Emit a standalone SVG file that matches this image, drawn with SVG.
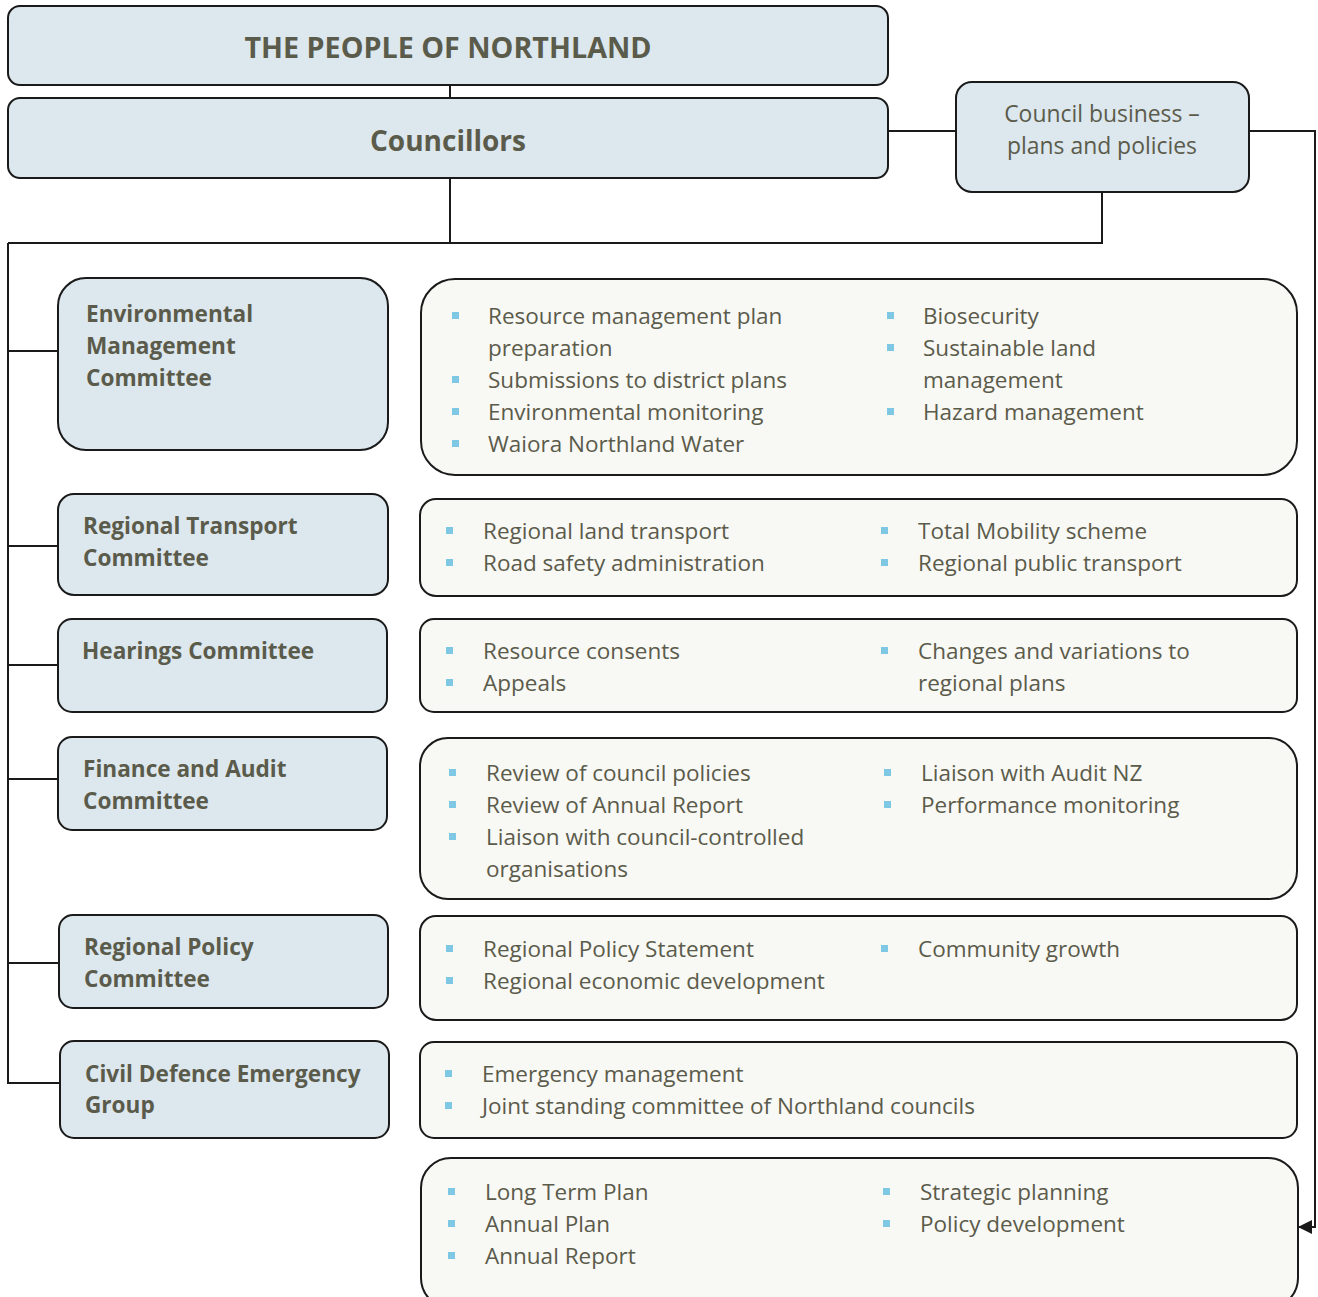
<svg xmlns="http://www.w3.org/2000/svg" width="1318" height="1297" viewBox="0 0 1318 1297">
<defs>
<style>
.nb{fill:#dce7ee;stroke:#1a1a1a;stroke-width:2}
.cb{fill:#f8f8f4;stroke:#1a1a1a;stroke-width:2}
.t{font-family:"Open Sans","Noto Sans",sans-serif;fill:#5b5b4b}
.h{font-weight:bold;font-size:22.6px}
.b{font-size:22.5px}
.bl{fill:#7ec8e3}
.c{fill:none;stroke:#1a1a1a;stroke-width:2}
</style>
<marker id="ah" markerWidth="16" markerHeight="16" refX="13" refY="7" orient="auto" markerUnits="userSpaceOnUse">
<path d="M0,0 L14,7 L0,14 Z" fill="#1a1a1a"/>
</marker>
<rect id="sq" width="7" height="7" class="bl"/>
</defs>
<rect width="1318" height="1297" fill="#ffffff"/>
<g id="connectors">
<path class="c" d="M450,85 V98"/>
<path class="c" d="M450,178 V243"/>
<path class="c" d="M8,243 H1102 V192"/>
<path class="c" d="M888,131 H956"/>
<path class="c" d="M8,243 V1083 H60"/>
<path class="c" d="M8,351 H58"/>
<path class="c" d="M8,546 H58"/>
<path class="c" d="M8,665 H58"/>
<path class="c" d="M8,779 H58"/>
<path class="c" d="M8,963 H59"/>
<path class="c" d="M1249,131 H1315 V1227 H1299" marker-end="url(#ah)"/>
</g>
<g id="people">
<rect class="nb" x="8" y="6" width="880" height="79" rx="12"/>
<text class="t" x="448" y="58" text-anchor="middle" font-size="28.7" font-weight="bold">THE PEOPLE OF NORTHLAND</text>
</g>
<g id="councillors">
<rect class="nb" x="8" y="98" width="880" height="80" rx="12"/>
<text class="t" x="448" y="151" text-anchor="middle" font-size="28" font-weight="bold">Councillors</text>
</g>
<g id="business">
<rect class="nb" x="956" y="82" width="293" height="110" rx="16"/>
<text class="t" x="1102" y="122" text-anchor="middle" font-size="22.9">Council business –</text>
<text class="t" x="1102" y="154" text-anchor="middle" font-size="22.9">plans and policies</text>
</g>
<g id="env">
<rect class="nb" x="58" y="278" width="330" height="172" rx="28"/>
<text class="t h" x="86" y="322">Environmental</text>
<text class="t h" x="86" y="354">Management</text>
<text class="t h" x="86" y="386">Committee</text>
</g>
<g id="env-tasks">
<rect class="cb" x="421" y="279" width="876" height="196" rx="34"/>
<use href="#sq" x="452" y="312"/><text class="t b" x="488" y="324">Resource management plan</text>
<text class="t b" x="488" y="356">preparation</text>
<use href="#sq" x="452" y="376"/><text class="t b" x="488" y="388">Submissions to district plans</text>
<use href="#sq" x="452" y="408"/><text class="t b" x="488" y="420">Environmental monitoring</text>
<use href="#sq" x="452" y="440"/><text class="t b" x="488" y="452">Waiora Northland Water</text>
<use href="#sq" x="887" y="312"/><text class="t b" x="923" y="324">Biosecurity</text>
<use href="#sq" x="887" y="344"/><text class="t b" x="923" y="356">Sustainable land</text>
<text class="t b" x="923" y="388">management</text>
<use href="#sq" x="887" y="408"/><text class="t b" x="923" y="420">Hazard management</text>
</g>
<g id="transport">
<rect class="nb" x="58" y="494" width="330" height="101" rx="16"/>
<text class="t h" x="83" y="534">Regional Transport</text>
<text class="t h" x="83" y="566">Committee</text>
</g>
<g id="transport-tasks">
<rect class="cb" x="420" y="499" width="877" height="97" rx="16"/>
<use href="#sq" x="446" y="527"/><text class="t b" x="483" y="539">Regional land transport</text>
<use href="#sq" x="446" y="559"/><text class="t b" x="483" y="571">Road safety administration</text>
<use href="#sq" x="881" y="527"/><text class="t b" x="918" y="539">Total Mobility scheme</text>
<use href="#sq" x="881" y="559"/><text class="t b" x="918" y="571">Regional public transport</text>
</g>
<g id="hearings">
<rect class="nb" x="58" y="619" width="329" height="93" rx="14"/>
<text class="t h" x="82" y="659">Hearings Committee</text>
</g>
<g id="hearings-tasks">
<rect class="cb" x="420" y="619" width="877" height="93" rx="14"/>
<use href="#sq" x="446" y="647"/><text class="t b" x="483" y="659">Resource consents</text>
<use href="#sq" x="446" y="679"/><text class="t b" x="483" y="691">Appeals</text>
<use href="#sq" x="881" y="647"/><text class="t b" x="918" y="659">Changes and variations to</text>
<text class="t b" x="918" y="691">regional plans</text>
</g>
<g id="finance">
<rect class="nb" x="58" y="737" width="329" height="93" rx="14"/>
<text class="t h" x="83" y="777">Finance and Audit</text>
<text class="t h" x="83" y="809">Committee</text>
</g>
<g id="finance-tasks">
<rect class="cb" x="420" y="738" width="877" height="161" rx="28"/>
<use href="#sq" x="449" y="769"/><text class="t b" x="486" y="781">Review of council policies</text>
<use href="#sq" x="449" y="801"/><text class="t b" x="486" y="813">Review of Annual Report</text>
<use href="#sq" x="449" y="833"/><text class="t b" x="486" y="845">Liaison with council-controlled</text>
<text class="t b" x="486" y="877">organisations</text>
<use href="#sq" x="884" y="769"/><text class="t b" x="921" y="781">Liaison with Audit NZ</text>
<use href="#sq" x="884" y="801"/><text class="t b" x="921" y="813">Performance monitoring</text>
</g>
<g id="policy">
<rect class="nb" x="59" y="915" width="329" height="93" rx="14"/>
<text class="t h" x="84" y="955">Regional Policy</text>
<text class="t h" x="84" y="987">Committee</text>
</g>
<g id="policy-tasks">
<rect class="cb" x="420" y="916" width="877" height="104" rx="16"/>
<use href="#sq" x="446" y="945"/><text class="t b" x="483" y="957">Regional Policy Statement</text>
<use href="#sq" x="446" y="977"/><text class="t b" x="483" y="989">Regional economic development</text>
<use href="#sq" x="881" y="945"/><text class="t b" x="918" y="957">Community growth</text>
</g>
<g id="civil">
<rect class="nb" x="60" y="1041" width="329" height="97" rx="14"/>
<text class="t h" x="85" y="1082">Civil Defence Emergency</text>
<text class="t h" x="85" y="1113">Group</text>
</g>
<g id="civil-tasks">
<rect class="cb" x="420" y="1042" width="877" height="96" rx="14"/>
<use href="#sq" x="445" y="1070"/><text class="t b" x="482" y="1082">Emergency management</text>
<use href="#sq" x="445" y="1102"/><text class="t b" x="482" y="1114">Joint standing committee of Northland councils</text>
</g>
<g id="business-tasks">
<rect class="cb" x="421" y="1158" width="877" height="150" rx="30"/>
<use href="#sq" x="448" y="1188"/><text class="t b" x="485" y="1200">Long Term Plan</text>
<use href="#sq" x="448" y="1220"/><text class="t b" x="485" y="1232">Annual Plan</text>
<use href="#sq" x="448" y="1252"/><text class="t b" x="485" y="1264">Annual Report</text>
<use href="#sq" x="883" y="1188"/><text class="t b" x="920" y="1200">Strategic planning</text>
<use href="#sq" x="883" y="1220"/><text class="t b" x="920" y="1232">Policy development</text>
</g>
</svg>
